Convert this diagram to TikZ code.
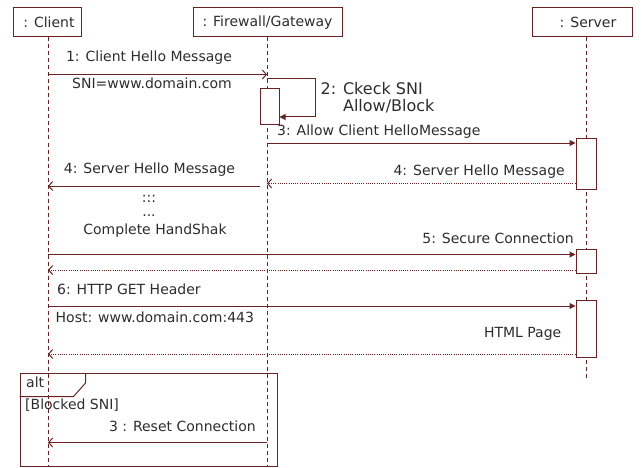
\documentclass[tikz,border=0pt]{standalone}
\usepackage{fontspec}
\setmainfont{DejaVu Sans}
\usetikzlibrary{arrows.meta,positioning}
\definecolor{lifered}{RGB}{105,35,35}
\definecolor{msgtext}{RGB}{45,45,45}

\begin{document}
\begin{tikzpicture}[x=1pt,y=-1pt,
  every node/.style={font=\fontsize{14}{16}\selectfont,text=msgtext},
  object/.style={draw=lifered,line width=1pt,fill=white,minimum height=29pt,inner sep=0pt},
  lifeline/.style={draw=lifered,line width=1pt,dash pattern=on 4pt off 3pt},
  activation/.style={draw=lifered,line width=1pt,fill=white,minimum width=20pt,inner sep=0pt},
  call/.style={draw=lifered,line width=1pt,-{Triangle[length=6pt,width=6pt]}},
  send/.style={draw=lifered,line width=1pt,-{Straight Barb[length=4pt,width=9pt]}},
  reply/.style={draw=lifered,line width=1pt,dash pattern=on 1pt off 1.2pt,-{Straight Barb[length=4pt,width=9pt]}},
  frame/.style={draw=lifered,line width=1pt,inner sep=0pt},
  lbl/.style={inner sep=0pt}]
  \useasboundingbox (0,0) rectangle (642,468);

  % the three objects on top
  \node[object,minimum width=68pt] (client) at (47.5,22.5) {\hspace{3pt}: Client};
  \node[object,minimum width=149pt] (gate) at (267.5,22.5) {: Firewall/Gateway};
  \node[object,minimum width=100pt] (server) at (582.5,22.5) {\hspace{11pt}: Server};

  % lifelines, dashed, down from each object
  \coordinate (clientend) at (48,466);
  \coordinate (gateend) at (267,466);
  \coordinate (serverend) at (586.5,378);
  \draw[lifeline] (client.south -| clientend) -- (clientend);
  \draw[lifeline] (gate.south -| gateend) -- (gateend);
  \draw[lifeline] (server.south -| serverend) -- (serverend);

  % activation boxes
  \node[activation,minimum width=19pt,minimum height=36pt] (gact) at (269.5,107) {};
  \node[activation,minimum height=51pt] (sact1) at (586,163.5) {};
  \node[activation,minimum height=24pt] (sact2) at (586,261.5) {};
  \node[activation,minimum height=57pt] (sact3) at (586,329) {};

  % 1: client hello to the gateway
  \node[lbl] (hello) at (149,57.5) {1: Client Hello Message};
  \draw[send] (clientend |- 0,74.5) -- (gateend |- 0,74.5);
  \node[lbl] (sni) at (152,83) {SNI=www.domain.com};

  % 2: self call on the gateway
  \draw[call] (gateend |- 0,79) -- (315,79) -- (315,117) -- (gact.east |- 0,117);
  \node[lbl,anchor=west,align=left,font=\fontsize{16}{17}\selectfont] (check) at (320.5,97.5) {2: Ckeck SNI\\\phantom{2: }Allow/Block};

  % 3: pass the hello on to the server
  \node[lbl,anchor=west] (allow) at (277,132) {3: Allow Client HelloMessage};
  \draw[call] (gateend |- 0,143) -- (sact1.west |- 0,143);

  % 4: server hello back to the client
  \node[lbl,anchor=east] (shello) at (565,172) {4: Server Hello Message};
  \draw[reply] (sact1.west |- 0,183.5) -- (gateend |- 0,183.5);
  \node[lbl] (shello2) at (149.5,170) {4: Server Hello Message};
  \draw[send] (gact.west |- 0,186) -- (clientend |- 0,186);
  \node[lbl] (dots1) at (149,199) {:::};
  \node[lbl] (dots2) at (149,216) {...};
  \node[lbl] (shake) at (155,231) {Complete HandShak};

  % 5: secure connection
  \node[lbl,anchor=east] (secure) at (574,238) {5: Secure Connection};
  \draw[call] (clientend |- 0,254.5) -- (sact2.west |- 0,254.5);
  \draw[reply] (sact2.west |- 0,270) -- (clientend |- 0,270);

  % 6: http get and the page back
  \node[lbl,anchor=west] (get) at (57,289) {6: HTTP GET Header};
  \draw[call] (clientend |- 0,306) -- (sact3.west |- 0,306);
  \node[lbl,anchor=west] (host) at (55.5,317) {Host: www.domain.com:443};
  \node[lbl,anchor=east] (page) at (561.5,334) {HTML Page};
  \draw[reply] (sact3.west |- 0,354) -- (clientend |- 0,354);

  % alt fragment for a blocked sni
  \node[frame,minimum width=257pt,minimum height=92.5pt] (altbox) at (148.5,419.75) {};
  \draw[frame] ([xshift=66pt]altbox.north west) -- ++(0,10) -- ++(-12,13.5) -- ([yshift=-23.5pt]altbox.north west);
  \node[lbl,anchor=west] (alt) at (26,382) {alt};
  \node[lbl,anchor=west] (guard) at (25,405.5) {[Blocked SNI]};
  \node[lbl,anchor=east] (reset) at (256,426) {3 : Reset Connection};
  \draw[send] (gateend |- 0,442.5) -- (clientend |- 0,442.5);
\end{tikzpicture}
\end{document}
